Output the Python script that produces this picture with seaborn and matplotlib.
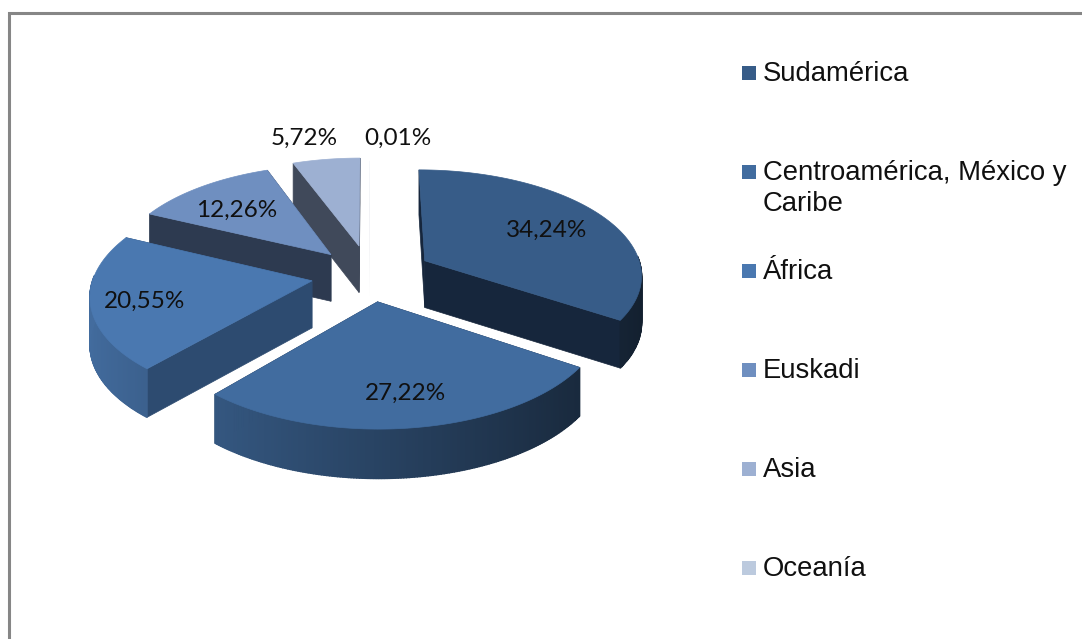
import numpy as np
import seaborn as sns
import matplotlib
matplotlib.use("Agg")
import matplotlib.pyplot as plt
from matplotlib.colors import to_rgb

regions = ["Sudamérica", "Centroamérica, México y\nCaribe", "África", "Euskadi", "Asia", "Oceanía"]
shares = [34.24, 27.22, 20.55, 12.26, 5.72, 0.01]

top_colors = ["#375c88", "#416c9f", "#4a78b0", "#6f8fc0", "#9db0d2", "#bccade"]
wall_colors = ["#16263c", "#1c2e48", "#2d4b70", "#2d3a50", "#40495a", "#5a6478"]
explode = [0.29, 0.25, 0.27, 0.27, 0.29, 0.25]
label_pos = [(547, 230), (405, 393), (145, 301), (237, 210), (304, 138), (398, 138)]

# pie geometry, in pixels
X0, Y0 = 370, 275
RX, RY = 218, 105
PERSP = 0.12
DEPTH = 47


def project(u, v):
    w = 1 / (1 + PERSP * v)
    return X0 + RX * u * w, Y0 - RY * v * w


def depth(v):
    return DEPTH / (1 + 0.04 * v)


def shade(color, u):
    f = 0.62 - 0.28 * u
    return tuple(np.clip(np.array(to_rgb(color)) * f, 0, 1))


sns.set_theme(style="white")
fig, ax = plt.subplots(figsize=(10.82, 6.39), dpi=100)
fig.subplots_adjust(0, 0, 1, 1)

# frame
ax.plot([9, 9, 1082], [639, 12.5, 12.5], color="#868686", lw=2.2, solid_joinstyle="miter")

# angles run clockwise from the top
edges = 90 - 360 * np.cumsum([0] + shares) / sum(shares)
draw_order = [4, 3, 0, 2, 1, 5]

for i in draw_order:
    a0, a1 = np.radians(edges[i]), np.radians(edges[i + 1])
    mid = (a0 + a1) / 2
    du, dv = explode[i] * np.cos(mid), explode[i] * np.sin(mid)
    ang = np.linspace(a0, a1, 160)
    us, vs = du + np.cos(ang), dv + np.sin(ang)
    px, py = project(us, vs)
    dp = depth(vs)
    ax_, ay_ = project(du, dv)
    ad = depth(dv)
    edge_lw = 0 if shares[i] < 0.1 else 0.5

    # radial walls
    for e in [0, -1]:
        ax.fill([ax_, px[e], px[e], ax_], [ay_, py[e], py[e] + dp[e], ay_ + ad],
                color=wall_colors[i], lw=edge_lw)
    # outer rim, only the part that faces the viewer
    for k in range(len(ang) - 1):
        if np.sin(ang[k]) > 0.05:
            continue
        ax.fill([px[k], px[k + 1], px[k + 1], px[k]],
                [py[k], py[k + 1], py[k + 1] + dp[k + 1], py[k] + dp[k]],
                color=shade(top_colors[i], np.cos(ang[k])), lw=edge_lw * 2)
    # top face
    ax.fill(np.r_[ax_, px], np.r_[ay_, py], color=top_colors[i], lw=edge_lw)

# data labels
for share, (lx, ly) in zip(shares, label_pos):
    ax.text(lx, ly, f"{share:.2f}%".replace(".", ","), ha="center", va="center",
            fontsize=17.5, family="Lato", color="#101010")

# legend
legend_y = [73, 172, 271, 370, 469, 568]
sns.scatterplot(x=[749] * len(regions), y=legend_y, hue=regions, palette=top_colors,
                marker="s", s=100, linewidth=0, legend=False, ax=ax)
for name, y in zip(regions, legend_y):
    ax.text(763, y + 1, name.split("\n")[0], ha="left", va="center", fontsize=19.8,
            family="Liberation Sans", color="#101010")
    if "\n" in name:
        ax.text(763, y + 32, name.split("\n")[1], ha="left", va="center", fontsize=19.8,
                family="Liberation Sans", color="#101010")

ax.set_xlim(0, 1082)
ax.set_ylim(639, 0)
ax.axis("off")

fig.savefig("out.png", dpi=100, facecolor="white")
